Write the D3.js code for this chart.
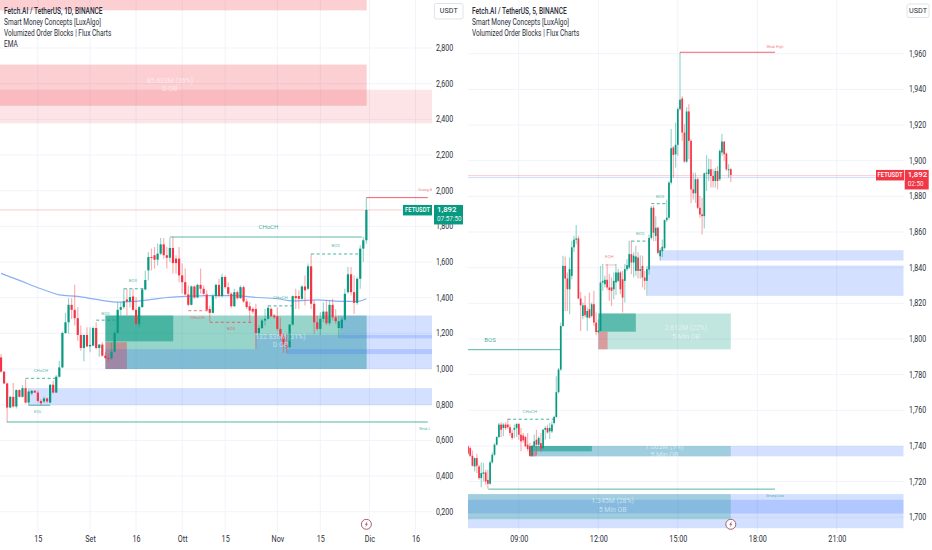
<!DOCTYPE html>
<html><head><meta charset="utf-8">
<script src="https://cdn.jsdelivr.net/npm/d3@7/dist/d3.min.js"></script>
<style>html,body{margin:0;padding:0;background:#fff}svg{display:block;font-family:Roboto,"Liberation Sans",sans-serif}</style>
</head><body><svg id="c" width="932" height="550"></svg>
<script>
// ---------- left chart: FET/USDT daily ----------
const leftOpen=[1.065,.985,.919,.784,.844,.790,.882,.844,.893,.812,.863,.878,.868,.821,.818,.835,.812,.912,.868,.957,1.009,1.202,1.262,1.360,1.332,1.285,1.191,1.118,1.191,1.127,1.131,1.230,1.118,1.137,1.075,1.062,1.060,1.097,1.202,1.332,1.347,1.390,1.379,1.407,1.332,1.253,1.347,1.446,1.553,1.628,1.638,1.613,1.647,1.699,1.638,1.624,1.679,1.619,1.619,1.525,1.487,1.418,1.360,1.463,1.401,1.472,1.450,1.418,1.337,1.315,1.409,1.472,1.409,1.516,1.459,1.422,1.352,1.431,1.397,1.459,1.379,1.352,1.337,1.337,1.202,1.230,1.272,1.281,1.337,1.300,1.296,1.225,1.184,1.137,1.122,1.249,1.409,1.409,1.394,1.463,1.450,1.576,1.366,1.262,1.225,1.281,1.322,1.257,1.360,1.290,1.230,1.230,1.277,1.431,1.531,1.431,1.371,1.506,1.675,1.722];
const leftHigh=[1.084,.990,.925,.850,.921,.887,.887,.910,.943,.891,.883,.882,.878,.831,.846,.840,.915,.934,.966,1.047,1.210,1.315,1.397,1.397,1.472,1.347,1.244,1.193,1.234,1.234,1.238,1.262,1.140,1.150,1.094,1.084,1.150,1.215,1.375,1.375,1.450,1.450,1.446,1.450,1.403,1.356,1.454,1.553,1.656,1.675,1.684,1.703,1.735,1.735,1.684,1.735,1.741,1.638,1.684,1.591,1.563,1.469,1.469,1.469,1.478,1.563,1.469,1.441,1.356,1.422,1.478,1.506,1.534,1.525,1.487,1.431,1.450,1.441,1.469,1.469,1.394,1.375,1.347,1.366,1.244,1.281,1.337,1.356,1.347,1.309,1.347,1.290,1.197,1.197,1.253,1.412,1.450,1.441,1.469,1.525,1.591,1.643,1.384,1.300,1.319,1.375,1.384,1.384,1.394,1.337,1.300,1.290,1.450,1.572,1.572,1.525,1.516,1.694,1.741,1.962];
const leftLow=[.981,.915,.700,.780,.784,.778,.840,.840,.805,.797,.853,.865,.812,.797,.808,.808,.806,.863,.865,.951,1.005,1.197,1.197,1.281,1.244,1.159,1.103,1.043,1.122,1.094,1.127,1.109,1.069,1.069,1.056,1.041,1.052,1.094,1.199,1.300,1.337,1.300,1.347,1.328,1.244,1.234,1.343,1.441,1.497,1.553,1.563,1.581,1.638,1.619,1.563,1.600,1.534,1.534,1.487,1.422,1.412,1.352,1.356,1.394,1.397,1.422,1.412,1.326,1.266,1.311,1.394,1.403,1.403,1.450,1.412,1.343,1.349,1.390,1.394,1.371,1.337,1.262,1.309,1.112,1.187,1.225,1.244,1.277,1.290,1.281,1.215,1.159,1.090,1.090,1.116,1.244,1.337,1.337,1.384,1.356,1.441,1.337,1.197,1.215,1.191,1.262,1.247,1.244,1.272,1.253,1.174,1.225,1.272,1.422,1.412,1.309,1.360,1.450,1.600,1.703];
const leftClose=[.985,.919,.784,.844,.790,.882,.844,.893,.812,.874,.878,.868,.821,.808,.835,.818,.912,.868,.957,1.009,1.202,1.262,1.360,1.332,1.285,1.191,1.118,1.191,1.127,1.135,1.230,1.118,1.137,1.075,1.062,1.056,1.097,1.202,1.332,1.347,1.379,1.379,1.403,1.332,1.253,1.347,1.446,1.499,1.628,1.623,1.613,1.647,1.699,1.638,1.624,1.679,1.594,1.594,1.525,1.487,1.418,1.360,1.463,1.401,1.472,1.450,1.422,1.332,1.315,1.409,1.472,1.409,1.516,1.459,1.422,1.352,1.431,1.397,1.459,1.379,1.347,1.328,1.322,1.202,1.230,1.272,1.281,1.343,1.296,1.290,1.225,1.184,1.137,1.122,1.249,1.409,1.397,1.394,1.463,1.441,1.576,1.366,1.262,1.225,1.281,1.322,1.257,1.360,1.290,1.268,1.268,1.277,1.422,1.531,1.431,1.371,1.506,1.675,1.722,1.892];
const emaIndex=[0,6,13,19,25,31,38,43,49,54,60,67,76,82,90,95,103,108,112,116,119];
const emaValues=[1.536,1.497,1.450,1.416,1.407,1.390,1.375,1.379,1.390,1.401,1.407,1.412,1.412,1.403,1.394,1.382,1.388,1.382,1.379,1.379,1.394];
const leftPriceTicks=[0.2,0.4,0.6,0.8,1.0,1.2,1.4,1.6,1.8,2.0,2.2,2.4,2.6,2.8];
const leftTimeIndex=[12,29,44,59,73,90,104,120,135];
const leftTimeLabels=["15","Set","16","Ott","15","Nov","15","Dic","16"];
const leftTitles=["Fetch.AI / TetherUS, 1D, BINANCE","Smart Money Concepts [LuxAlgo]","Volumized Order Blocks | Flux Charts","EMA"];
const leftBoxes=[ // start index, end index, top price, bottom price, kind
 [-1,119.1,3.3,3.011,"supply"],[-1,119.1,2.707,2.476,"supply"],[-1,141,2.566,2.377,"supplyPale"],
 [9,141,.893,.797,"demand"],
 [34,119.1,1.300,1.0,"ob"],[34,56.1,1.300,1.155,"obCore"],[34,41,1.150,1.0,"obRed"],
 [34,93,1.112,1.0,"demand"],[83,141,1.191,1.112,"demand"],[93,141,1.112,1.0,"demand"],[93,141,1.112,1.084,"demand"],[110.4,141,1.300,1.172,"demand"]];
const leftLines=[ // start index, end index, price, kind
 [-1,131,1.892,"priceRed"],[55,117.5,1.740,"tealThick"],[101,117,1.645,"tealDash"],[2,139,.703,"teal"],[119,139,1.961,"red"],
 [8,17.8,.948,"tealDash"],[31,37,1.274,"tealDash"],[40,46.5,1.450,"tealDash"],[61,68,1.327,"redDash"],[68,81.6,1.262,"redDash"],[87,95,1.354,"tealDash"],[9,16,.797,"teal"]];
const leftNotes=[ // text, index, price, kind
 ["CHoCH",87.1,1.794,"teal"],["BOS",109,1.690,"tealSmall"],["Strong H",138.2,2.001,"redTiny"],["CHoCH",13,.992,"tealSmall"],["EQL",12,.761,"tealSmall"],["Weak L",138,.664,"tealTiny"],["BOS",34,1.312,"tealSmall"],["BOS",43,1.494,"tealSmall"],["CHoCH",64,1.288,"redSmall"],["BOS",75,1.223,"redSmall"],["CHoCH",91,1.400,"tealSmall"],
 ["85.633M (26%)",55,2.615,"ob"],["D OB",55,2.569,"ob"],["132.836M (31%)",91,1.178,"ob"],["D OB",91,1.133,"ob"]];

// ---------- right chart: FET/USDT 5 min ----------
const rightOpen=[1.7398,1.7388,1.7345,1.7285,1.7332,1.7285,1.7220,1.7244,1.7252,1.7210,1.7188,1.7308,1.7351,1.7407,1.7450,1.7520,1.7501,1.7520,1.7520,1.7505,1.7473,1.7491,1.7501,1.7523,1.7463,1.7458,1.7450,1.7407,1.7398,1.7345,1.7398,1.7435,1.7407,1.7416,1.7388,1.7491,1.7501,1.7482,1.7482,1.7529,1.7563,1.7702,1.7829,1.8073,1.8410,1.8339,1.8279,1.8354,1.8514,1.8557,1.8564,1.8227,1.8129,1.8189,1.8120,1.8167,1.8129,1.8195,1.8092,1.8039,1.8045,1.8317,1.8307,1.8332,1.8289,1.8289,1.8279,1.8317,1.8326,1.8373,1.8335,1.8326,1.8392,1.8401,1.8476,1.8429,1.8382,1.8457,1.8382,1.8410,1.8345,1.8326,1.8389,1.8567,1.8736,1.8577,1.8624,1.8464,1.8492,1.8511,1.8667,1.8680,1.8877,1.9074,1.9036,1.9089,1.9289,1.9349,1.9158,1.8995,1.9276,1.9111,1.8839,1.8817,1.8896,1.8736,1.8699,1.8689,1.8929,1.8924,1.8952,1.8914,1.8886,1.8942,1.8896,1.9046,1.9107,1.9040,1.8948,1.8952];
const rightHigh=[1.7401,1.7398,1.7375,1.7336,1.7357,1.7295,1.7308,1.7304,1.7267,1.7267,1.7319,1.7364,1.7416,1.7454,1.7529,1.7533,1.7529,1.7533,1.7552,1.7520,1.7491,1.7520,1.7529,1.7529,1.7501,1.7473,1.7458,1.7473,1.7416,1.7407,1.7463,1.7491,1.7454,1.7473,1.7495,1.7510,1.7520,1.7529,1.7538,1.7570,1.7791,1.7838,1.8092,1.8467,1.8463,1.8373,1.8457,1.8551,1.8579,1.8639,1.8579,1.8264,1.8204,1.8242,1.8176,1.8260,1.8204,1.8270,1.8148,1.8111,1.8410,1.8420,1.8354,1.8420,1.8364,1.8345,1.8373,1.8420,1.8392,1.8382,1.8382,1.8420,1.8448,1.8551,1.8551,1.8486,1.8523,1.8486,1.8470,1.8467,1.8382,1.8410,1.8586,1.8746,1.8749,1.8689,1.8629,1.8511,1.8558,1.8670,1.8783,1.8886,1.9177,1.9083,1.9214,1.9299,1.9608,1.9361,1.9205,1.9299,1.9317,1.9120,1.8933,1.8933,1.8905,1.8802,1.8792,1.8933,1.9031,1.9012,1.9008,1.8952,1.8961,1.8970,1.9064,1.9149,1.9111,1.9046,1.8980,1.8961];
const rightLow=[1.7351,1.7338,1.7285,1.7257,1.7248,1.7210,1.7169,1.7201,1.7182,1.7160,1.7182,1.7300,1.7345,1.7403,1.7445,1.7450,1.7454,1.7491,1.7497,1.7458,1.7435,1.7445,1.7450,1.7435,1.7370,1.7420,1.7394,1.7370,1.7342,1.7338,1.7394,1.7351,1.7398,1.7364,1.7379,1.7435,1.7469,1.7439,1.7473,1.7520,1.7557,1.7694,1.7820,1.8069,1.8157,1.8157,1.8139,1.8335,1.8486,1.8532,1.8223,1.8045,1.8111,1.8120,1.8045,1.8114,1.8120,1.8073,1.8021,1.8032,1.8045,1.8270,1.8289,1.8275,1.8214,1.8185,1.8223,1.8245,1.8317,1.8251,1.8148,1.8204,1.8382,1.8392,1.8364,1.8345,1.8354,1.8339,1.8339,1.8289,1.8275,1.8242,1.8361,1.8558,1.8549,1.8549,1.8474,1.8440,1.8460,1.8502,1.8656,1.8670,1.8866,1.8905,1.8961,1.9027,1.9280,1.9111,1.8989,1.8989,1.9008,1.8761,1.8783,1.8764,1.8727,1.8680,1.8586,1.8620,1.8830,1.8886,1.8849,1.8849,1.8849,1.8839,1.8886,1.9027,1.8999,1.8942,1.8905,1.8880];
const rightClose=[1.7357,1.7345,1.7289,1.7332,1.7289,1.7220,1.7248,1.7252,1.7201,1.7188,1.7308,1.7351,1.7407,1.7450,1.7520,1.7491,1.7520,1.7501,1.7505,1.7473,1.7445,1.7501,1.7523,1.7463,1.7426,1.7432,1.7398,1.7383,1.7345,1.7401,1.7426,1.7407,1.7445,1.7385,1.7491,1.7501,1.7476,1.7501,1.7520,1.7563,1.7702,1.7829,1.8073,1.8410,1.8339,1.8279,1.8392,1.8514,1.8557,1.8564,1.8227,1.8189,1.8189,1.8133,1.8157,1.8120,1.8195,1.8092,1.8039,1.8047,1.8317,1.8326,1.8332,1.8289,1.8275,1.8270,1.8326,1.8373,1.8373,1.8279,1.8232,1.8392,1.8414,1.8476,1.8429,1.8467,1.8463,1.8382,1.8392,1.8345,1.8326,1.8392,1.8567,1.8736,1.8596,1.8624,1.8483,1.8498,1.8517,1.8667,1.8680,1.8877,1.9070,1.9032,1.9089,1.9289,1.9342,1.9158,1.8995,1.9276,1.9111,1.8839,1.8817,1.8896,1.8736,1.8699,1.8689,1.8929,1.8933,1.8952,1.8914,1.8886,1.8942,1.8886,1.9055,1.9107,1.9036,1.8952,1.8952,1.8920];
const rightPriceTicks=[1.70,1.72,1.74,1.76,1.78,1.80,1.82,1.84,1.86,1.88,1.90,1.92,1.94,1.96];
const rightTimeIndex=[23,59,95,131,167];
const rightTimeLabels=["09:00","12:00","15:00","18:00","21:00"];
const rightTitles=["Fetch.AI / TetherUS, 5, BINANCE","Smart Money Concepts [LuxAlgo]","Volumized Order Blocks | Flux Charts"];
const rightBoxes=[
 [86.9,197.2,1.8498,1.8440,"demand"],[81.3,197.2,1.8412,1.8242,"demand"],
 [59,119,1.8143,1.7942,"obSoft"],[59,76,1.8143,1.8041,"obCore"],[59,63.2,1.8041,1.7942,"obRed"],
 [27.8,197.2,1.74,1.7342,"demand"],[27.8,119,1.74,1.7342,"obSoft"],[27.8,56.1,1.74,1.737,"obCore"],[27.8,31.1,1.737,1.7342,"obRed"],
 [0,197.2,1.713,1.6939,"demand"],[0,197.2,1.7098,1.7021,"demand"],[0,119,1.713,1.6989,"obSoft"]];
const rightLines=[
 [0,184.7,1.8916,"priceRed"],[0,184.7,1.8905,"priceBlue"],[96,139,1.9608,"red"],[9.2,139,1.7158,"teal"],[0,41.7,1.794,"teal"],
 [18,39,1.755,"tealDash"],[74,82,1.8549,"tealDash"],[83,89.6,1.8759,"tealDash"],[62,67,1.8415,"redPale"]];
const rightNotes=[
 ["BOS",10,1.799,"teal"],["CHoCH",28,1.759,"tealSmall"],["BOS",78,1.859,"tealSmall"],["BOS",87,1.880,"tealSmall"],["EQH",64,1.846,"redSmall"],
 ["Weak High",139,1.964,"redTiny"],["Strong Low",139,1.712,"tealTiny"],
 ["2.612M (22%)",98.7,1.806,"ob"],["5 Min OB",98.7,1.801,"ob"],["1.003M (9%)",88.9,1.7395,"ob"],["5 Min OB",88.9,1.735,"ob"],["1.345M (28%)",65.5,1.709,"ob"],["5 Min OB",65.5,1.704,"ob"]];

// ---------- styles ----------
const GREEN="#089981",RED="#f23645";
const boxStyle={supply:["#f23645",.24],supplyPale:["#f23645",.13],demand:["#2962ff",.2],ob:["#089981",.42],obSoft:["#089981",.25],obCore:["#089981",.55],obRed:["#f23645",.42]};
const lineStyle={priceRed:[RED,.25,1,null],priceBlue:["#2962ff",.22,1,null],tealThick:[GREEN,.45,1.5,null],tealDash:[GREEN,.75,1,"3 2.5"],teal:[GREEN,.7,1,null],red:[RED,.8,1,null],redDash:[RED,.7,1,"3 2.5"],redPale:[RED,.35,1,null]};
const noteStyle={teal:[GREEN,.8,6],tealSmall:[GREEN,.7,4.4],tealTiny:[GREEN,.7,3.6],redSmall:[RED,.65,4.4],redTiny:[RED,.7,3.6],ob:["#ffffff",.55,6.9]};
const svg=d3.select("#c");
// narrow the glyphs, the reference type is set tighter than any installed face
function narrow(sel,k){sel.each(function(){const n=this.getComputedTextLength();this.setAttribute("textLength",n*k);this.setAttribute("lengthAdjust","spacingAndGlyphs");});return sel;}

function chart(o){
 const g=svg.append("g");
 const clip="cl"+o.id;
 svg.append("defs").append("clipPath").attr("id",clip).append("rect").attr("x",o.x0).attr("y",0).attr("width",o.x1-o.x0).attr("height",o.yBottom);
 const x=d3.scaleLinear().domain(o.xDomain).range(o.xRange);
 const y=d3.scaleLinear().domain(o.yDomain).range(o.yRange);
 const plot=g.append("g").attr("clip-path",`url(#${clip})`);
 plot.selectAll(".gh").data(o.priceTicks).join("line").attr("x1",o.x0).attr("x2",o.x1).attr("y1",d=>y(d)).attr("y2",d=>y(d)).attr("stroke","#f0f3fa");
 plot.selectAll(".gv").data(o.timeIndex).join("line").attr("x1",d=>x(d)).attr("x2",d=>x(d)).attr("y1",0).attr("y2",o.yBottom).attr("stroke","#f0f3fa");
 plot.selectAll(".b").data(o.boxes).join("rect").attr("x",d=>x(d[0])).attr("width",d=>x(d[1])-x(d[0])).attr("y",d=>y(d[2])).attr("height",d=>y(d[3])-y(d[2]))
  .attr("fill",d=>boxStyle[d[4]][0]).attr("fill-opacity",d=>boxStyle[d[4]][1]);
 plot.selectAll(".l").data(o.lines).join("line").attr("x1",d=>x(d[0])).attr("x2",d=>x(d[1])).attr("y1",d=>y(d[2])).attr("y2",d=>y(d[2]))
  .attr("stroke",d=>lineStyle[d[3]][0]).attr("stroke-opacity",d=>lineStyle[d[3]][1]).attr("stroke-width",d=>lineStyle[d[3]][2]).attr("stroke-dasharray",d=>lineStyle[d[3]][3]);
 if(o.emaIndex){
  const pts=o.emaIndex.map((d,i)=>[d,o.emaValues[i]]);
  plot.append("path").attr("d",d3.line().x(d=>x(d[0])).y(d=>y(d[1])).curve(d3.curveMonotoneX)(pts)).attr("fill","none").attr("stroke","#8ab0f2").attr("stroke-width",1.2);
 }
 const idx=d3.range(o.open.length);
 plot.selectAll(".w").data(idx).join("line").attr("x1",i=>x(i)).attr("x2",i=>x(i)).attr("y1",i=>y(o.high[i])).attr("y2",i=>y(o.low[i]))
  .attr("stroke",i=>o.close[i]>=o.open[i]?GREEN:RED).attr("stroke-opacity",.4).attr("stroke-width",1.2);
 plot.selectAll(".c").data(idx).join("rect").attr("x",i=>x(i)-o.bw/2).attr("width",o.bw)
  .attr("y",i=>y(Math.max(o.open[i],o.close[i]))).attr("height",i=>Math.max(1,Math.abs(y(o.open[i])-y(o.close[i]))))
  .attr("fill",i=>o.close[i]>=o.open[i]?GREEN:RED);
 plot.selectAll(".n").data(o.notes).join("text").text(d=>d[0]).attr("x",d=>x(d[1])).attr("y",d=>y(d[2])).attr("text-anchor","middle").attr("dominant-baseline","middle")
  .attr("fill",d=>noteStyle[d[3]][0]).attr("fill-opacity",d=>noteStyle[d[3]][1]).attr("font-size",d=>noteStyle[d[3]][2]);
 const ay=d3.axisRight(y).tickValues(o.priceTicks).tickSize(0).tickPadding(0).tickFormat(o.fmt);
 narrow(g.append("g").attr("transform",`translate(${o.axisX},0)`).call(ay).call(s=>s.select(".domain").remove()).selectAll("text").attr("font-size",8.2).attr("fill","#2a2e39").attr("font-family","Roboto,sans-serif"),.86);
 const ax=d3.axisBottom(x).tickValues(o.timeIndex).tickSize(0).tickPadding(0).tickFormat((d,i)=>o.timeLabels[i]);
 narrow(g.append("g").attr("transform","translate(0,536.5)").call(ax).call(s=>s.select(".domain").remove()).selectAll("text").attr("font-size",8.2).attr("fill","#2a2e39").attr("font-family","Roboto,sans-serif"),.88);
 narrow(g.selectAll(".t").data(o.titles).join("text").text(d=>d).attr("x",o.titleX).attr("y",(d,i)=>13.6+i*11).attr("font-size",8.2).attr("fill","#2a2e39").attr("font-weight",(d,i)=>i?400:500),.8);
 g.append("rect").attr("x",o.u[0]).attr("y",o.u[1]).attr("width",o.u[2]).attr("height",o.u[3]).attr("rx",2).attr("fill","#fff").attr("stroke","#e0e3eb");
 g.append("text").text("USDT").attr("x",o.u[0]+o.u[2]/2).attr("y",o.u[1]+o.u[3]/2).attr("text-anchor","middle").attr("dominant-baseline","middle").attr("font-size",7.2).attr("fill","#2a2e39");
 const py=y(o.close[o.close.length-1]);
 g.append("rect").attr("x",o.tag[0]).attr("y",py-5).attr("width",o.tag[1]).attr("height",10.5).attr("fill",o.tagColor);
 narrow(g.append("text").text("FETUSDT").attr("x",o.tag[0]+o.tag[1]/2).attr("y",py+.3).attr("text-anchor","middle").attr("dominant-baseline","middle").attr("font-size",7.4).attr("font-weight",500).attr("fill","#fff"),.8);
 g.append("rect").attr("x",o.tag[2]).attr("y",py-5).attr("width",o.tag[3]).attr("height",19.5).attr("fill",o.tagColor);
 g.append("text").text("1,892").attr("x",o.tag[2]+3).attr("y",py+.3).attr("dominant-baseline","middle").attr("font-size",7.8).attr("font-weight",500).attr("fill","#fff");
 narrow(g.append("text").text(o.clock).attr("x",o.tag[2]+3).attr("y",py+9.3).attr("dominant-baseline","middle").attr("font-size",7.6).attr("fill","#fff").attr("fill-opacity",.9),.84);
 const bz=g.append("g").attr("transform",`translate(${x(o.open.length-1)},524.3)`);
 bz.append("circle").attr("r",5).attr("fill","#fff").attr("stroke","#a1606c").attr("stroke-width",1);
 bz.append("path").attr("d","M1.2,-3.2 L-1.6,0.5 L-0.1,0.5 L-1.1,3.2 L1.6,-0.6 L0.1,-0.6 Z").attr("fill","#a1606c");
}

chart({id:"L",x0:0,x1:432,yBottom:533,xDomain:[0,135],xRange:[1,415.5],yDomain:[0.2,2.8],yRange:[511.7,48],
 open:leftOpen,high:leftHigh,low:leftLow,close:leftClose,bw:2.2,boxes:leftBoxes,lines:leftLines,notes:leftNotes,emaIndex,emaValues,
 priceTicks:leftPriceTicks,timeIndex:leftTimeIndex,timeLabels:leftTimeLabels,titles:leftTitles,titleX:4,axisX:436,fmt:d=>d3.format(".3f")(d).replace(".",","),
 u:[434.5,3.5,28.5,15.5],tag:[403,29,434,29],tagColor:GREEN,clock:"07:57:50"});
chart({id:"R",x0:468,x1:904,yBottom:533,xDomain:[0,119],xRange:[468,730.8],yDomain:[1.70,1.96],yRange:[517.3,53.7],
 open:rightOpen,high:rightHigh,low:rightLow,close:rightClose,bw:1.7,boxes:rightBoxes,lines:rightLines,notes:rightNotes,
 priceTicks:rightPriceTicks,timeIndex:rightTimeIndex,timeLabels:rightTimeLabels,titles:rightTitles,titleX:472,axisX:909,fmt:d=>d3.format(".3f")(d).replace(".",","),
 u:[907,4,22,13.5],tag:[876,28,904.7,24],tagColor:RED,clock:"02:50"});
</script></body></html>
